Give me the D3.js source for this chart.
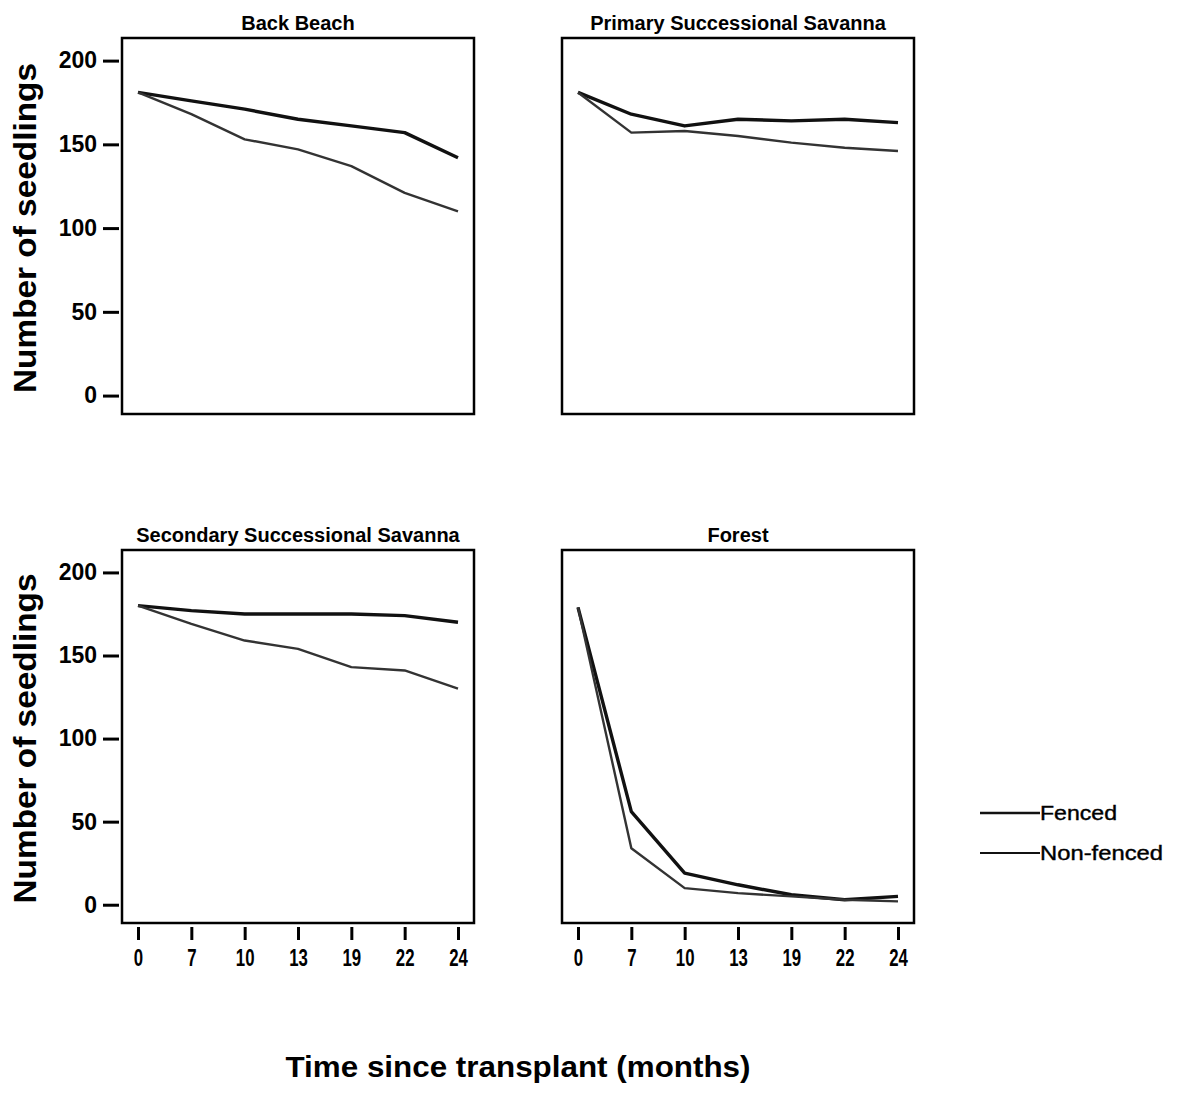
<!DOCTYPE html>
<html>
<head>
<meta charset="utf-8">
<script src="https://cdn.jsdelivr.net/npm/d3@7"></script>
<style>
  body { margin: 0; background: #fff; }
  text { font-family: "Liberation Sans", Arial, sans-serif; fill: #000; }
</style>
</head>
<body>
<div id="root"></div>
<script>

const svgWidth = 1185;
const svgHeight = 1112;

// data
const months = ["0", "7", "10", "13", "19", "22", "24"];
const sites = ["Back Beach", "Primary Successional Savanna", "Secondary Successional Savanna", "Forest"];
const yTicks = [0, 50, 100, 150, 200];
const seriesNames = ["Fenced", "Non-fenced"];

const fencedBackBeach = [181, 176, 171, 165, 161, 157, 142];
const nonFencedBackBeach = [181, 168, 153, 147, 137, 121, 110];

const fencedPrimary = [181, 168, 161, 165, 164, 165, 163];
const nonFencedPrimary = [181, 157, 158, 155, 151, 148, 146];

const fencedSecondary = [180, 177, 175, 175, 175, 174, 170];
const nonFencedSecondary = [180, 169, 159, 154, 143, 141, 130];

const fencedForest = [179, 56, 19, 12, 6, 3, 5];
const nonFencedForest = [179, 34, 10, 7, 5, 3, 2];

const siteSeries = [
  [fencedBackBeach, nonFencedBackBeach],
  [fencedPrimary, nonFencedPrimary],
  [fencedSecondary, nonFencedSecondary],
  [fencedForest, nonFencedForest]
];

// layout of the four panels
const colX = [122, 562];
const rowY = [38, 550];
const panelW = 352;
const panelH = [376, 373];

const lineStyle = [
  { stroke: "#111", width: 3.4 },
  { stroke: "#333", width: 2.4 }
];

const mainSvg = d3.select("#root")
  .append("svg")
  .attr("width", svgWidth)
  .attr("height", svgHeight)
  .style("background", "#fff");

sites.forEach((site, i) => {
  const col = i % 2;
  const row = Math.floor(i / 2);
  const x0 = colX[col];
  const y0 = rowY[row];
  const h = panelH[row];

  const xScale = d3.scalePoint()
    .domain(months)
    .range([x0, x0 + panelW])
    .padding(0.3);

  const yScale = d3.scaleLinear()
    .domain([-11, 213.5])
    .range([y0 + h, y0]);

  const g = mainSvg.append("g");

  // panel title
  g.append("text")
    .attr("x", x0 + panelW / 2)
    .attr("y", y0 - 8)
    .attr("text-anchor", "middle")
    .attr("font-size", "20px")
    .attr("font-weight", "bold")
    .text(site);

  // lines
  const line = d3.line()
    .x((d, k) => xScale(months[k]))
    .y(d => yScale(d));

  siteSeries[i].forEach((values, s) => {
    g.append("path")
      .datum(values)
      .attr("d", line)
      .attr("fill", "none")
      .attr("stroke", lineStyle[s].stroke)
      .attr("stroke-width", lineStyle[s].width)
      .attr("stroke-linejoin", "round");
  });

  // frame
  g.append("rect")
    .attr("x", x0)
    .attr("y", y0)
    .attr("width", panelW)
    .attr("height", h)
    .attr("fill", "none")
    .attr("stroke", "#000")
    .attr("stroke-width", 2.5);

  // y axis on left column
  if (col === 0) {
    const yAxis = g.append("g")
      .attr("transform", `translate(${x0 - 3},0)`)
      .call(d3.axisLeft(yScale).tickValues(yTicks).tickSize(16).tickPadding(6));
    yAxis.select(".domain").remove();
    yAxis.selectAll(".tick line").attr("stroke", "#000").attr("stroke-width", 3);
    yAxis.selectAll(".tick text")
      .attr("font-size", "23px")
      .attr("font-weight", "bold")
      .attr("font-family", "Liberation Sans, Arial, sans-serif");

    g.append("text")
      .attr("transform", `translate(36,${y0 + h / 2 + 2}) rotate(-90)`)
      .attr("text-anchor", "middle")
      .attr("font-size", "31px")
      .attr("font-weight", "bold")
      .attr("textLength", 330)
      .attr("lengthAdjust", "spacingAndGlyphs")
      .text("Number of seedlings");
  }

  // x axis on bottom row
  if (row === 1) {
    const xAxis = g.append("g")
      .attr("transform", `translate(0,${y0 + h + 4})`)
      .call(d3.axisBottom(xScale).tickSize(13).tickPadding(8));
    xAxis.select(".domain").remove();
    xAxis.selectAll(".tick line").attr("stroke", "#000").attr("stroke-width", 3);
    xAxis.selectAll(".tick text")
      .attr("font-size", "24px")
      .attr("font-weight", "bold")
      .attr("font-family", "Liberation Sans, Arial, sans-serif")
      .attr("transform", "scale(0.7,1)")
      .attr("dy", "0.75em");
  }
});

// x axis title
mainSvg.append("text")
  .attr("x", 518)
  .attr("y", 1077)
  .attr("text-anchor", "middle")
  .attr("font-size", "30px")
  .attr("font-weight", "bold")
  .attr("textLength", 465)
  .attr("lengthAdjust", "spacingAndGlyphs")
  .text("Time since transplant (months)");

// legend
const legend = mainSvg.append("g");
seriesNames.forEach((name, s) => {
  const ly = 813 + s * 40;
  legend.append("line")
    .attr("x1", 980)
    .attr("x2", 1040)
    .attr("y1", ly)
    .attr("y2", ly)
    .attr("stroke", "#111")
    .attr("stroke-width", s === 0 ? 2.4 : 2);
  legend.append("text")
    .attr("x", 1040)
    .attr("y", ly + 7)
    .attr("font-size", "21px")
    .attr("stroke", "#000")
    .attr("stroke-width", 0.4)
    .attr("textLength", s === 0 ? 77 : 123)
    .attr("lengthAdjust", "spacingAndGlyphs")
    .text(name);
});

</script>
</body>
</html>
